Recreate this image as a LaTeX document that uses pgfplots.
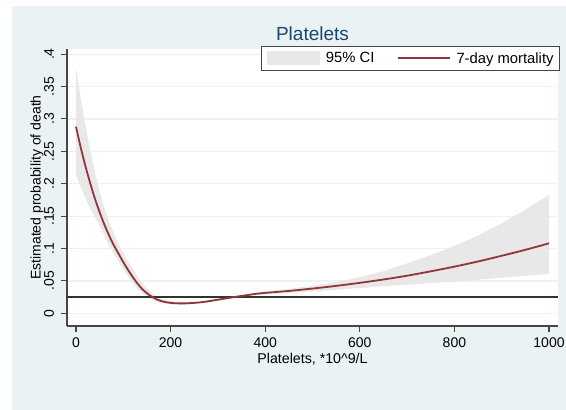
\documentclass[border=0pt]{standalone}
\usepackage{fontspec}
\setmainfont{Liberation Sans}
\usepackage{pgfplots}
\usepackage{pgfplotstable}
\pgfplotsset{compat=1.18}
\definecolor{bgblue}{RGB}{234,242,243}
\definecolor{stmaroon}{RGB}{144,53,59}
\definecolor{cigray}{RGB}{232,232,232}
\definecolor{titleblue}{RGB}{26,71,111}
\definecolor{gridc}{RGB}{234,242,243}
\definecolor{axisc}{RGB}{70,70,70}

\pgfplotstableread{
x est
0 0.288
10 0.256
20 0.227
30 0.201
40 0.177
50 0.156
60 0.137
70 0.120
80 0.105
90 0.092
100 0.079
110 0.067
120 0.056
130 0.046
140 0.0375
150 0.031
160 0.0258
170 0.0218
180 0.0190
190 0.0172
200 0.0161
210 0.0155
220 0.0153
230 0.0153
240 0.0156
260 0.0167
280 0.0186
300 0.0210
320 0.0234
340 0.0257
360 0.0278
380 0.0300
400 0.0315
450 0.0345
500 0.0382
550 0.0423
600 0.0470
650 0.0522
700 0.0580
750 0.0648
800 0.0720
850 0.0800
900 0.0888
950 0.0980
1000 0.1080
}\esttable

% 95% CI band: upper bound from 0 to 1000, then lower bound from 1000 back to 0
\pgfplotstableread{
x ci
0 0.378
10 0.332
20 0.290
30 0.252
40 0.218
50 0.188
60 0.162
70 0.141
80 0.123
90 0.107
100 0.093
110 0.080
120 0.068
130 0.057
140 0.047
150 0.0385
160 0.0318
170 0.0267
180 0.0230
190 0.0205
200 0.0188
210 0.0178
220 0.0172
230 0.0170
240 0.0171
260 0.0180
280 0.0198
300 0.0222
320 0.0247
340 0.0271
360 0.0294
380 0.0316
400 0.0337
450 0.0376
500 0.0424
550 0.0482
600 0.0555
650 0.0650
700 0.0770
750 0.0900
800 0.1040
850 0.1200
900 0.1390
950 0.1600
1000 0.1826
1000 0.0607
950 0.0578
900 0.0551
850 0.0520
800 0.0490
750 0.0467
700 0.0441
650 0.0418
600 0.0390
550 0.0364
500 0.0338
450 0.0314
400 0.0293
380 0.0281
360 0.0263
340 0.0244
320 0.0221
300 0.0197
280 0.0173
260 0.0153
240 0.0139
230 0.0135
220 0.0134
210 0.0135
200 0.0139
190 0.0147
180 0.0160
170 0.0181
160 0.0212
150 0.0255
140 0.0312
130 0.0385
120 0.047
110 0.057
100 0.068
90 0.080
80 0.092
70 0.105
60 0.120
50 0.135
40 0.149
30 0.162
20 0.178
10 0.196
0 0.213
}\citable

\begin{document}
\begin{tikzpicture}[x=1pt,y=1pt]
\fill[white] (0,0) rectangle (566,410);
\fill[bgblue] (12,0) rectangle (566,404);
\begin{axis}[
  at={(67pt,84pt)}, anchor=south west,
  scale only axis, width=491pt, height=277pt,
  xmin=-19, xmax=1019, ymin=-0.0196, ymax=0.4079,
  axis x line*=bottom, axis y line*=left,
  axis line style={axisc, line width=1.1pt, -},
  xtick={0,200,400,600,800,1000},
  ytick={0,0.05,0.1,0.15,0.2,0.25,0.3,0.35,0.4},
  yticklabels={0,.05,.1,.15,.2,.25,.3,.35,.4},
  tick align=outside, major tick length=6pt,
  tick style={axisc, line width=1.1pt},
  ymajorgrids, grid style={gridc, line width=1.2pt},
  axis background/.style={fill=white},
  /pgf/number format/assume math mode=true,
  /pgf/number format/1000 sep={},
  scaled y ticks=false,
  ticklabel style={font=\fontsize{14}{14}\selectfont},
  xticklabel style={inner sep=0pt, anchor=north, yshift=-6pt},
  yticklabel style={xshift=-7pt, rotate=90, anchor=base, inner sep=0pt},
  xlabel={Platelets, *10\textasciicircum 9/L},
  xlabel style={font=\fontsize{14.2}{14.2}\selectfont, at={(axis description cs:0.5,-0.136)}, anchor=base, inner sep=0pt},
  ylabel={Estimated probability of death},
  ylabel style={font=\fontsize{14}{14}\selectfont, at={(axis description cs:-0.0611,0.5)}, anchor=center, inner sep=0pt},
  title={Platelets},
  title style={font=\fontsize{19}{19}\selectfont, text=titleblue, at={(axis description cs:0.5,1)}, anchor=base, yshift=2pt, inner sep=0pt},
  legend columns=2,
  legend style={at={(axis description cs:1.004,1.0108)}, anchor=north east,
    draw=axisc, line width=0.8pt, fill=white,
    font=\fontsize{14.8}{14.8}\selectfont,
    nodes={inner sep=0pt},
    inner xsep=6pt, inner ysep=5pt,
    /tikz/every odd column/.append style={column sep=6pt},
    /tikz/every even column/.append style={column sep=22pt}},
]
\addplot[fill=cigray, draw=none, legend image code/.code={\fill[cigray] (0pt,-7pt) rectangle (53pt,7pt);}] table[x=x,y=ci] {\citable} \closedcycle;
\addlegendentry{95\% CI}
\addplot[color=black!80, line width=1.3pt, forget plot] coordinates {(-19,0.025) (1019,0.025)};
\addplot[stmaroon, line width=1.8pt, smooth, legend image code/.code={\draw[stmaroon, line width=2pt] (0pt,0pt) -- (52pt,0pt);}] table[x=x,y=est] {\esttable};
\addlegendentry{7-day mortality}
\end{axis}
\end{tikzpicture}
\end{document}
